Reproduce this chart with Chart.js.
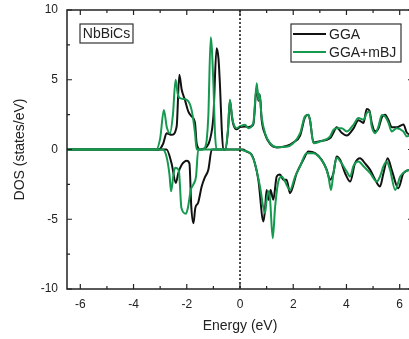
<!DOCTYPE html>
<html>
<head>
<meta charset="utf-8">
<script src="https://cdn.jsdelivr.net/npm/chart.js@4.4.1/dist/chart.umd.min.js"></script>
<style>
  html, body { margin: 0; padding: 0; background: #fff; overflow: hidden; }
</style>
</head>
<body>
<canvas id="dosChart" width="422" height="339"></canvas>
<script>
// Energy (eV) and DOS (states/eV)
const ggaUpE = [-6.5, -3.05, -2.88, -2.76, -2.57, -2.38, -2.28, -2.19, -2.07, -1.94, -1.82, -1.69, -1.63, -1.5, -1.25, -1.13, -1.0, -0.88, -0.81, -0.75, -0.69, -0.63, -0.55, -0.45, -0.38, -0.3, -0.25, -0.13, 0,
  0.19, 0.31, 0.5, 0.63, 0.69, 0.75, 0.81, 0.94, 1.13, 1.38, 1.75, 2.0, 2.26, 2.44, 2.57, 2.63, 2.76, 3.0, 3.38, 3.51, 3.63, 3.82, 4.01, 4.26, 4.45, 4.64, 4.76, 4.86, 4.95, 5.08, 5.2, 5.33, 5.45, 5.58, 5.7, 5.89, 6.14, 6.27, 6.5];
const ggaUpDos = [0, 0, 0.45, 1.17, 1.05, 1.65, 5.35, 4.28, 3.56, 2.72, 2.37, 1.89, 0.45, 0, 0.2, 0.7, 2.37, 7.26, 6.55, 4.5, 1.65, 0, 0, 1.4, 3.5, 2.3, 1.8, 1.45, 1.6,
  1.65, 1.6, 1.8, 4.5, 3.5, 3.9, 2.2, 1.1, 0.4, 0.15, 0.25, 0.5, 1.0, 2.3, 2.5, 2.1, 0.5, 0.6, 0.8, 1.2, 1.6, 1.2, 1.0, 1.5, 2.1, 1.9, 2.9, 2.8, 1.9, 1.3, 1.5, 2.3, 2.5, 2.1, 1.6, 1.6, 1.8, 1.2, 1.0];

const ggaDnE = [-6.5, -2.76, -2.57, -2.41, -2.32, -2.19, -2.0, -1.9, -1.83, -1.75, -1.68, -1.57, -1.44, -1.32, -1.19, -1.06, 0.1, 0.25, 0.44, 0.56, 0.69, 0.88, 0.94, 1.0, 1.07, 1.15, 1.25, 1.38, 1.5, 1.63, 1.75, 1.88,
  2.13, 2.38, 2.57, 2.82, 3.07, 3.26, 3.38, 3.51, 3.63, 3.76, 3.95, 4.14, 4.32, 4.51, 4.7, 4.89, 5.08, 5.26, 5.39, 5.55, 5.7, 5.95, 6.14, 6.5];
const ggaDnDos = [0, 0, -1.0, -2.4, -1.7, -1.1, -0.8, -1.0, -4.1, -5.28, -4.2, -3.8, -2.65, -2.0, -1.45, 0, 0, -0.15, -0.38, -1.0, -2.17, -5.16, -4.3, -2.9, -3.6, -2.9, -3.6, -1.94, -1.8, -2.17, -2.17, -3.13,
  -1.7, -0.74, -0.15, -0.26, -0.74, -1.46, -2.17, -1.7, -0.5, -0.74, -1.7, -2.3, -1.0, -0.62, -1.0, -1.46, -2.17, -2.65, -1.7, -0.62, -1.46, -2.77, -1.7, -1.4];

const mbjUpE = [-6.5, -3.15, -3.0, -2.86, -2.75, -2.63, -2.52, -2.42, -2.34, -2.26, -2.0, -1.82, -1.69, -1.63, -1.4, -1.3, -1.25, -1.19, -1.1, -1.0, -0.94, -0.88, -0.55, -0.45, -0.38, -0.3, -0.25, -0.13, 0,
  0.19, 0.31, 0.5, 0.63, 0.69, 0.73, 0.81, 0.94, 1.13, 1.38, 1.75, 2.0, 2.26, 2.44, 2.57, 2.63, 2.76, 3.0, 3.38, 3.51, 3.63, 3.82, 4.01, 4.26, 4.45, 4.64, 4.76, 4.86, 4.95, 5.08, 5.2, 5.33, 5.45, 5.58, 5.7, 5.89, 6.14, 6.27, 6.5];
const mbjUpDos = [0, 0, 0.8, 2.84, 1.6, 1.17, 2.5, 5.0, 4.0, 3.68, 3.56, 2.84, 1.17, 0, 0, 0.2, 0.7, 2.4, 8.05, 4.75, 1.2, 0, 0, 1.5, 3.56, 2.4, 1.9, 1.53, 1.65,
  1.77, 1.53, 1.9, 4.75, 3.56, 4.0, 2.37, 1.17, 0.45, 0.17, 0.2, 0.45, 1.17, 2.37, 2.48, 2.13, 0.45, 0.57, 0.93, 1.41, 1.53, 1.53, 1.29, 1.77, 2.25, 2.13, 2.6, 2.72, 1.65, 1.17, 1.65, 2.48, 2.37, 1.9, 1.29, 1.53, 1.29, 0.93, 1.2];

const mbjDnE = [-6.5, -2.9, -2.75, -2.65, -2.59, -2.5, -2.44, -2.3, -2.2, -2.03, -1.95, -1.85, -1.75, -1.65, -1.57, 0.05, 0.13, 0.38, 0.56, 0.75, 0.94, 1.0, 1.07, 1.13, 1.23, 1.32, 1.44, 1.57, 1.69, 1.88,
  2.07, 2.26, 2.5, 2.76, 3.0, 3.2, 3.32, 3.42, 3.51, 3.63, 3.82, 4.01, 4.14, 4.26, 4.45, 4.64, 4.89, 5.14, 5.26, 5.39, 5.51, 5.64, 5.83, 6.02, 6.2, 6.5];
const mbjDnDos = [0, 0, -0.6, -1.8, -3.0, -1.8, -1.3, -1.5, -4.2, -4.6, -4.1, -2.9, -2.5, -1.9, 0, 0, -0.07, -0.26, -1.0, -2.65, -4.56, -3.6, -3.0, -3.6, -6.36, -4.1, -2.3, -1.94, -2.3, -2.9,
  -1.94, -1.2, -0.26, -0.26, -0.6, -1.2, -1.9, -2.9, -1.7, -0.6, -1.0, -1.58, -1.94, -1.2, -0.86, -1.2, -1.7, -2.3, -1.94, -1.2, -0.86, -1.46, -2.9, -1.94, -1.58, -1.4];

const xTickValues = [-6, -4, -2, 0, 2, 4, 6];
const xMinorTicks = [-5, -3, -1, 1, 3, 5];
const yTickValues = [-10, -5, 0, 5, 10];
const yMinorTicks = [-7.5, -2.5, 2.5, 7.5];
const seriesNames = ['GGA', 'GGA+mBJ'];
const compound = 'NbBiCs';

const BLACK = '#111111';
const GREEN = '#15994f';
const FONT = '"Liberation Sans", Arial, sans-serif';

function toPoints(xs, ys) {
    return xs.map((x, i) => ({ x: x, y: ys[i] }));
}

function lineSet(label, xs, ys, color, order) {
    return {
        label: label,
        data: toPoints(xs, ys),
        borderColor: color,
        backgroundColor: color,
        borderWidth: 2,
        pointRadius: 0,
        showLine: true,
        fill: false,
        cubicInterpolationMode: 'monotone',
        order: order
    };
}

// frame, inward ticks, Fermi level line, legend and label box
const decorations = {
    id: 'decorations',
    afterDatasetsDraw(chart) {
        const ctx = chart.ctx;
        const a = chart.chartArea;
        const xs = chart.scales.x;
        const ys = chart.scales.y;
        ctx.save();

        // dotted line at E = 0
        const x0 = xs.getPixelForValue(0);
        ctx.strokeStyle = BLACK;
        ctx.lineWidth = 1.5;
        ctx.setLineDash([2, 2]);
        ctx.beginPath();
        ctx.moveTo(x0, a.top);
        ctx.lineTo(x0, a.bottom);
        ctx.stroke();
        ctx.setLineDash([]);

        // frame
        ctx.strokeStyle = '#222';
        ctx.lineWidth = 1.5;
        ctx.strokeRect(a.left, a.top, a.right - a.left, a.bottom - a.top);

        // ticks pointing in
        ctx.lineWidth = 1.2;
        const xTick = (v, len) => {
            const p = xs.getPixelForValue(v);
            ctx.beginPath();
            ctx.moveTo(p, a.bottom); ctx.lineTo(p, a.bottom - len);
            ctx.moveTo(p, a.top); ctx.lineTo(p, a.top + len);
            ctx.stroke();
        };
        const yTick = (v, len) => {
            const p = ys.getPixelForValue(v);
            ctx.beginPath();
            ctx.moveTo(a.left, p); ctx.lineTo(a.left + len, p);
            ctx.moveTo(a.right, p); ctx.lineTo(a.right - len, p);
            ctx.stroke();
        };
        xTickValues.forEach(v => xTick(v, 5));
        xMinorTicks.forEach(v => xTick(v, 3));
        yTickValues.forEach(v => yTick(v, 5));
        yMinorTicks.forEach(v => yTick(v, 3));

        // compound label
        ctx.lineWidth = 1.2;
        ctx.strokeStyle = '#333';
        ctx.strokeRect(80, 24, 53, 19);
        ctx.fillStyle = '#222';
        ctx.font = '14px ' + FONT;
        ctx.textAlign = 'center';
        ctx.textBaseline = 'middle';
        ctx.fillText(compound, 106.5, 34);

        // legend
        ctx.strokeRect(291, 24, 110, 38);
        const legendColors = [BLACK, GREEN];
        const legendY = [34, 52];
        ctx.textAlign = 'left';
        seriesNames.forEach((name, i) => {
            ctx.strokeStyle = legendColors[i];
            ctx.lineWidth = 2;
            ctx.beginPath();
            ctx.moveTo(293, legendY[i]);
            ctx.lineTo(326, legendY[i]);
            ctx.stroke();
            ctx.fillStyle = '#222';
            ctx.fillText(name, 329, legendY[i] + 1);
        });

        ctx.restore();
    }
};

const ctx = document.getElementById('dosChart').getContext('2d');
new Chart(ctx, {
    type: 'scatter',
    data: {
        datasets: [
            lineSet('GGA up', ggaUpE, ggaUpDos, BLACK, 2),
            lineSet('GGA down', ggaDnE, ggaDnDos, BLACK, 2),
            lineSet('GGA+mBJ up', mbjUpE, mbjUpDos, GREEN, 1),
            lineSet('GGA+mBJ down', mbjDnE, mbjDnDos, GREEN, 1)
        ]
    },
    options: {
        responsive: false,
        animation: false,
        devicePixelRatio: 1,
        layout: { padding: { top: 10, right: 9, left: 0, bottom: 0 } },
        plugins: {
            legend: { display: false },
            tooltip: { enabled: false }
        },
        scales: {
            x: {
                type: 'linear',
                min: -6.5,
                max: 6.5,
                grid: { display: false, drawTicks: false },
                border: { display: false },
                afterBuildTicks: scale => { scale.ticks = xTickValues.map(v => ({ value: v })); },
                afterFit: scale => {
                    scale.height = 50;
                    scale.paddingLeft = 0;
                    scale.paddingRight = 0;
                },
                ticks: {
                    padding: 8,
                    color: '#222',
                    font: { family: FONT, size: 12 },
                    maxRotation: 0,
                    callback: v => String(v)
                },
                title: {
                    display: true,
                    text: 'Energy (eV)',
                    color: '#222',
                    font: { family: FONT, size: 14 },
                    padding: { top: 0, bottom: 4 }
                }
            },
            y: {
                type: 'linear',
                min: -10,
                max: 10,
                grid: { display: false, drawTicks: false },
                border: { display: false },
                afterBuildTicks: scale => { scale.ticks = yTickValues.map(v => ({ value: v })); },
                afterFit: scale => {
                    scale.width = 67;
                    scale.paddingTop = 0;
                    scale.paddingBottom = 0;
                },
                ticks: {
                    padding: 9,
                    color: '#222',
                    font: { family: FONT, size: 12 },
                    callback: v => String(v)
                },
                title: {
                    display: true,
                    text: 'DOS (states/eV)',
                    color: '#222',
                    font: { family: FONT, size: 14 },
                    padding: { top: 12, bottom: 0 }
                }
            }
        }
    },
    plugins: [decorations]
});
</script>
</body>
</html>
